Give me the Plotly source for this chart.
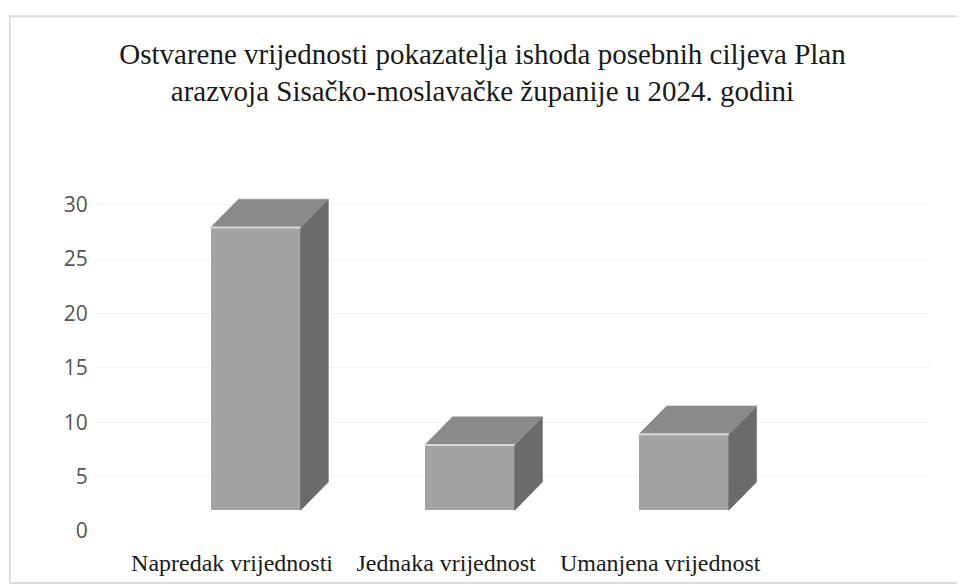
import plotly.graph_objects as go

# ---- data ----
categories = ["Napredak vrijednosti", "Jednaka vrijednost", "Umanjena vrijednost"]
values = [26, 6, 7]
y_ticks = [0, 5, 10, 15, 20, 25, 30]
title_text = ("Ostvarene vrijednosti pokazatelja ishoda posebnih ciljeva Plan<br>"
              "arazvoja Sisačko-moslavačke županije u 2024. godini")

# ---- 3D look parameters (style) ----
FLOOR = 1.9        # apparent floor of the front faces
OFFSET = 0.11      # front face shift right of the category label
BAR_W = 0.42
DX = 0.13          # depth in x (category units)
DY = 2.6           # depth in y (value units)
FRONT = "#a3a3a3"
TOP = "#8a8a8a"
SIDE = "#6b6b6b"
HILITE = "#d8d8d8"

fig = go.Figure()

for i, v in enumerate(values):
    cx = i + OFFSET
    x0, x1 = cx - BAR_W / 2, cx + BAR_W / 2
    top = FLOOR + v
    # side face
    fig.add_trace(go.Scatter(
        x=[x1, x1, x1 + DX, x1 + DX, x1],
        y=[FLOOR, top, top + DY, FLOOR + DY, FLOOR],
        fill="toself", fillcolor=SIDE, mode="lines",
        line=dict(color=SIDE, width=0.5), hoverinfo="skip", showlegend=False))
    # top face
    fig.add_trace(go.Scatter(
        x=[x0, x1, x1 + DX, x0 + DX, x0],
        y=[top, top, top + DY, top + DY, top],
        fill="toself", fillcolor=TOP, mode="lines",
        line=dict(color=TOP, width=0.5), hoverinfo="skip", showlegend=False))

# front faces
fig.add_trace(go.Bar(
    x=[i + OFFSET for i in range(len(values))],
    y=values, base=FLOOR, width=BAR_W,
    marker=dict(color=FRONT, line=dict(width=0)),
    hoverinfo="skip", showlegend=False))

# highlight at top edge of front faces
for i, v in enumerate(values):
    cx = i + OFFSET
    fig.add_trace(go.Scatter(
        x=[cx - BAR_W / 2, cx + BAR_W / 2], y=[FLOOR + v, FLOOR + v],
        mode="lines", line=dict(color=HILITE, width=2),
        hoverinfo="skip", showlegend=False))

fig.update_layout(
    width=965, height=585,
    paper_bgcolor="white", plot_bgcolor="white",
    margin=dict(l=87, r=43, t=164, b=62),
    title=dict(text=title_text, x=0.4917, xanchor="center", y=0.905, yanchor="top",
               font=dict(family="Liberation Serif", size=29, color="#1a1a1a")),
    xaxis=dict(range=[-0.64, 3.26], tickvals=list(range(len(categories))),
               ticktext=categories, showgrid=False, zeroline=False, showline=False,
               ticks="outside", ticklen=10, tickcolor="rgba(0,0,0,0)",
               tickfont=dict(family="Liberation Serif", size=24, color="#1a1a1a")),
    yaxis=dict(range=[0, 33], tickvals=y_ticks, showgrid=True, gridcolor="#f2f2f2",
               zeroline=False, showline=False, ticks="outside", ticklen=2,
               tickcolor="rgba(0,0,0,0)",
               tickfont=dict(family="Open Sans", size=21, color="#555555")),
    bargap=0,
    shapes=[dict(type="rect", xref="paper", yref="paper", x0=-0.102, x1=1.12,
                 y0=-0.145, y1=1.434, line=dict(color="#dcdcdc", width=2),
                 fillcolor="rgba(0,0,0,0)", layer="below")],
)

fig.write_html("out.html")
